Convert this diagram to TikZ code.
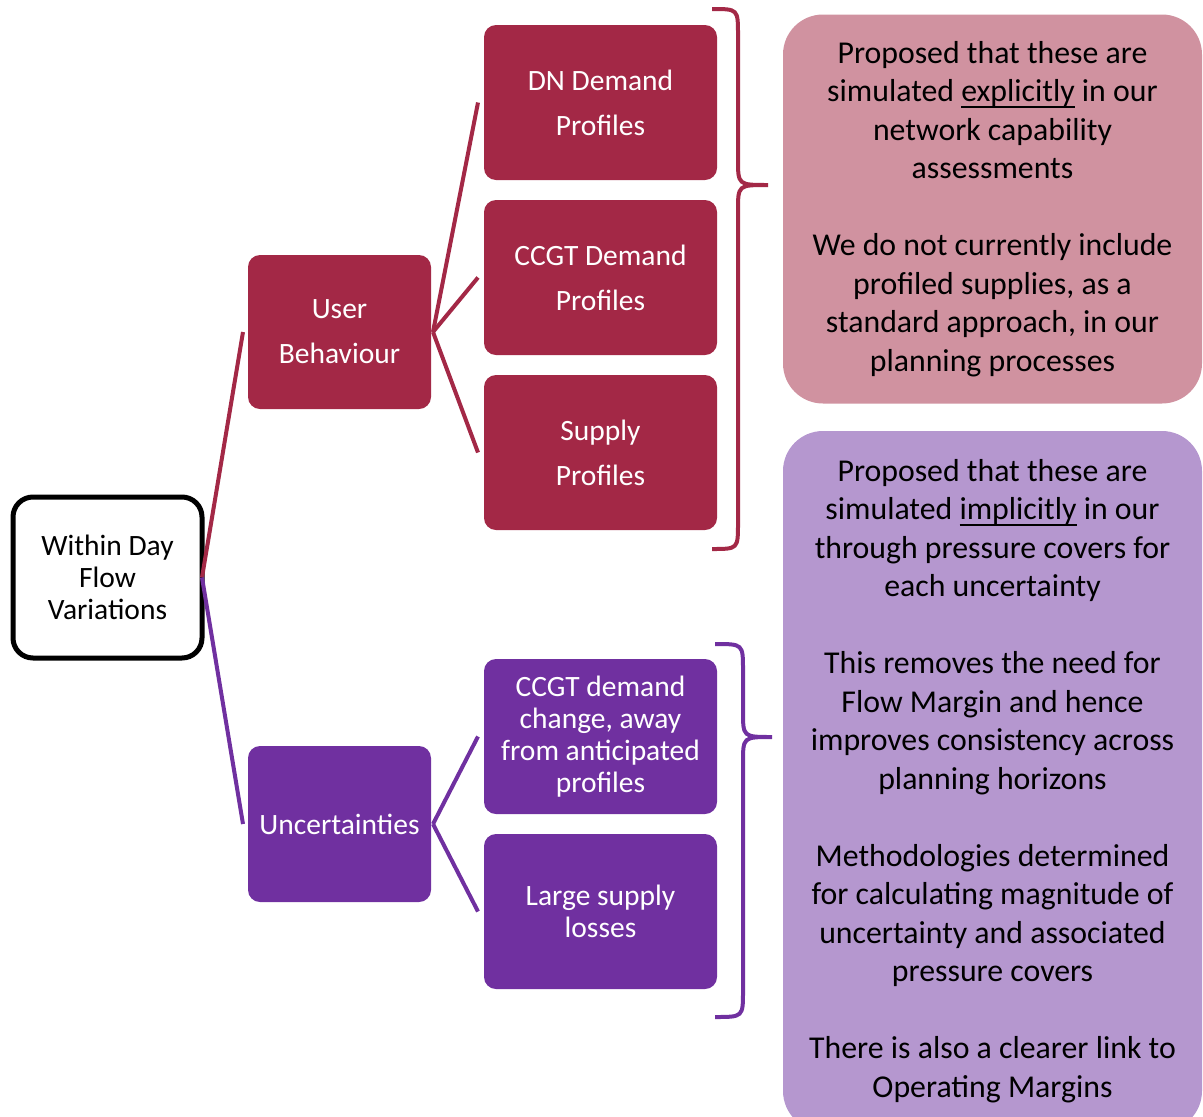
\documentclass[tikz,border=0pt]{standalone}
\usepackage{fontspec}
\setmainfont{Carlito}
\usetikzlibrary{positioning}

\definecolor{ubred}{HTML}{A32846}
\definecolor{ucpurple}{HTML}{7030A0}
\definecolor{notepink}{HTML}{D092A0}
\definecolor{notelilac}{HTML}{B597CF}

% underline that crosses the descenders, as in the slide
\newcommand{\undl}[1]{\setbox0\hbox{#1}\rlap{\rule[-6pt]{\wd0}{1.8pt}}#1}

\begin{document}
\begin{tikzpicture}[x=1pt,y=-1pt,
	every node/.style={outer sep=0pt,inner sep=0pt,align=center},
	rootbox/.style={draw=black,line width=5pt,fill=white,rounded corners=20pt,
		minimum width=189pt,minimum height=161pt,font=\fontsize{29.5}{32}\selectfont},
	redbox/.style={fill=ubred,text=white,rounded corners=12pt,
		minimum width=233pt,minimum height=155pt,font=\fontsize{29.5}{45}\selectfont},
	purplebox/.style={fill=ucpurple,text=white,rounded corners=12pt,
		minimum width=233pt,minimum height=155pt,font=\fontsize{29.5}{32}\selectfont},
	notebox/.style={rounded corners=40pt,minimum width=419pt,
		font=\fontsize{31.8}{38.5}\selectfont},
	redlink/.style={draw=ubred,line width=4pt},
	purplelink/.style={draw=ucpurple,line width=4pt}]
	\useasboundingbox (0,0) rectangle (1203,1117);

	% root
	\node[rootbox] (root) at (107.5,577.5) {Within Day\\Flow\\Variations};

	% user behaviour branch
	\node[redbox,minimum width=183pt,minimum height=154pt] (user) at (339.5,332) {User\\Behaviour};
	\node[redbox] (dn) at (600.5,102.5) {DN Demand\\Profiles};
	\node[redbox] (ccgt) at (600.5,277.5) {CCGT Demand\\Profiles};
	\node[redbox] (supply) at (600.5,452.5) {Supply\\Profiles};

	% uncertainties branch
	\node[purplebox,minimum width=183pt,minimum height=156pt] (unc) at (339.5,824) {Uncertainties};
	\node[purplebox] (ccgtchg) at (600.5,736.5) {CCGT demand\\change, away\\from anticipated\\profiles};
	\node[purplebox] (loss) at (600.5,911.5) {Large supply\\losses};

	% connectors
	\draw[redlink] (root.east) -- ([xshift=-5pt]user.west);
	\draw[purplelink] (root.east) -- ([xshift=-5pt]unc.west);
	\foreach \c in {dn,ccgt,supply}
		\draw[redlink] ([xshift=2pt]user.east) -- ([xshift=-6pt]\c.west);
	\foreach \c in {ccgtchg,loss}
		\draw[purplelink] ([xshift=2pt]unc.east) -- ([xshift=-6pt]\c.west);

	% braces
	\draw[redlink] (712,9) .. controls (738,9) .. (738,35) -- (738,159)
		.. controls (738,185) .. (768,185) .. controls (738,185) .. (738,211)
		-- (738,523) .. controls (738,549) .. (712,549);
	\draw[purplelink] (715,644) .. controls (743,644) .. (743,670) -- (743,711)
		.. controls (743,737) .. (772,737) .. controls (743,737) .. (743,763)
		-- (743,991) .. controls (743,1017) .. (715,1017);

	% notes
	\node[notebox,fill=notepink,minimum height=389pt] (explicit) at (992.5,209)
		{Proposed that these are\\simulated \undl{explicitly} in our\\network capability\\assessments\\[38.5pt]
		We do not currently include\\profiled supplies, as a\\standard approach, in our\\planning processes};
	\node[notebox,fill=notelilac,minimum height=700pt] (implicit) at (992.5,781)
		{Proposed that these are\\simulated \undl{implicitly} in our\\through pressure covers for\\each uncertainty\\[38.5pt]
		This removes the need for\\Flow Margin and hence\\improves consistency across\\planning horizons\\[38.5pt]
		Methodologies determined\\for calculating magnitude of\\uncertainty and associated\\pressure covers\\[38.5pt]
		There is also a clearer link to\\Operating Margins};
\end{tikzpicture}
\end{document}
